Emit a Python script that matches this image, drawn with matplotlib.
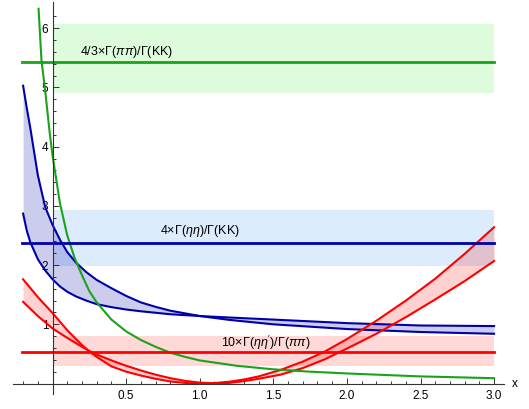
import matplotlib
matplotlib.use('Agg')
import matplotlib.pyplot as plt
import numpy as np

plt.rcParams['font.family'] = ['Liberation Sans', 'DejaVu Sans']
plt.rcParams['mathtext.fontset'] = 'custom'
plt.rcParams['mathtext.rm'] = 'Liberation Sans'
plt.rcParams['mathtext.it'] = 'Liberation Sans:italic'

# horizontal reference values (center, low, high)
green_ref = [5.43, 4.91, 6.07]
blue_ref = [2.38, 1.99, 2.93]
red_ref = [0.54, 0.30, 0.80]

green_label = '4/3×Γ($\\pi\\pi$)/Γ(KK)'
blue_label = '4×Γ($\\eta\\eta$)/Γ(KK)'
red_label = "10×Γ($\\eta\\eta'$)/Γ($\\pi\\pi$)"

# green curve
green_x = [-0.095, -0.075, -0.05, -0.02, 0.0, 0.05, 0.10, 0.15, 0.20, 0.25, 0.30, 0.40,
           0.50, 0.60, 0.70, 0.80, 0.90, 1.00, 1.25, 1.50, 1.75, 2.00, 2.50, 3.00]
green_y = [6.33, 5.45, 4.95, 4.25, 3.85, 3.05, 2.50, 2.12, 1.83, 1.56, 1.37, 1.08,
           0.88, 0.735, 0.62, 0.52, 0.45, 0.39, 0.30, 0.24, 0.20, 0.17, 0.12, 0.09]

# blue band
blue_x = [-0.20, -0.175, -0.15, -0.10, -0.05, 0.0, 0.05, 0.10, 0.16, 0.23, 0.30, 0.40,
          0.50, 0.60, 0.70, 0.80, 1.00, 1.20, 1.50, 2.00, 2.50, 3.00]
blue1_y = [5.03, 4.65, 4.30, 3.52, 2.98, 2.68, 2.43, 2.22, 2.04, 1.88, 1.75, 1.61,
           1.48, 1.37, 1.295, 1.23, 1.14, 1.075, 1.00, 0.92, 0.87, 0.84]
blue2_y = [2.87, 2.58, 2.38, 2.10, 1.91, 1.76, 1.64, 1.55, 1.47, 1.40, 1.34, 1.29,
           1.25, 1.22, 1.195, 1.17, 1.14, 1.115, 1.08, 1.02, 0.98, 0.97]

# red band
red_x = [-0.20, -0.10, 0.0, 0.10, 0.20, 0.25, 0.30, 0.40, 0.50, 0.60, 0.70, 0.80, 0.90,
         1.00, 1.10, 1.20, 1.30, 1.40, 1.55, 1.70, 1.85, 2.00, 2.20, 2.40, 2.60, 2.80, 3.00]
red1_y = [1.76, 1.46, 1.19, 0.90, 0.65, 0.54, 0.45, 0.29, 0.20, 0.135, 0.08, 0.035, 0.01,
          0.0, 0.008, 0.03, 0.068, 0.12, 0.23, 0.37, 0.54, 0.75, 1.06, 1.40, 1.77, 2.19, 2.64]
red2_y = [1.38, 1.14, 0.93, 0.77, 0.62, 0.55, 0.49, 0.39, 0.30, 0.22, 0.15, 0.09, 0.045,
          0.015, 0.005, 0.01, 0.04, 0.08, 0.15, 0.26, 0.41, 0.59, 0.84, 1.12, 1.42, 1.73, 2.07]

GREEN = '#1aa31a'
BLUE = '#0000a8'
RED = '#ff0000'

fig = plt.figure(figsize=(5.29, 4.09), dpi=100)
ax = fig.add_axes([0.0242, 0.0377, 0.9293, 0.9583])
ax.set_xlim(-0.27, 3.07)
ax.set_ylim(-0.17, 6.45)

# shaded reference bands
ax.fill_between([0, 3], green_ref[1], green_ref[2], color='#dcfcdc', lw=0, zorder=1)
ax.fill_between([0, 3], blue_ref[1], blue_ref[2], color='#dcecfc', lw=0, zorder=1)
ax.fill_between([0, 3], red_ref[1], red_ref[2], color='#ffd8d8', lw=0, zorder=1)

# curve bands
ax.fill_between(blue_x, blue1_y, blue2_y, color=BLUE, alpha=0.2, lw=0, zorder=2)
ax.fill_between(red_x, red1_y, red2_y, color=RED, alpha=0.18, lw=0, zorder=2)

ax.plot(blue_x, blue1_y, color=BLUE, lw=1.5, zorder=3)
ax.plot(blue_x, blue2_y, color=BLUE, lw=1.5, zorder=3)
ax.plot(red_x, red1_y, color=RED, lw=1.5, zorder=3)
ax.plot(red_x, red2_y, color=RED, lw=1.5, zorder=3)
ax.plot(green_x, green_y, color=GREEN, lw=1.5, zorder=3)

# reference lines
for ref, c in [(green_ref, GREEN), (blue_ref, BLUE), (red_ref, RED)]:
    ax.plot([-0.21, 3.0], [ref[0], ref[0]], color=c, lw=2, zorder=4)

ax.text(0.185, 5.6, green_label, fontsize=9, va='center', ha='left', zorder=5)
ax.text(0.73, 2.58, blue_label, fontsize=9, va='center', ha='left', zorder=5)
ax.text(1.145, 0.68, red_label, fontsize=9, va='center', ha='left', zorder=5)

# Mathematica style axes through the origin
for s in ['top', 'right']:
    ax.spines[s].set_visible(False)
ax.spines['left'].set_position(('data', 0))
ax.spines['bottom'].set_position(('data', 0))
for s in ['left', 'bottom']:
    ax.spines[s].set_color('#333333')
    ax.spines[s].set_linewidth(0.8)
    ax.spines[s].set_zorder(6)

ax.set_xticks([0.5, 1.0, 1.5, 2.0, 2.5, 3.0])
ax.set_xticklabels(['0.5', '1.0', '1.5', '2.0', '2.5', '3.0'])
ax.set_xticks([v / 10 for v in range(-2, 31) if v % 5 != 0], minor=True)
ax.set_yticks([1, 2, 3, 4, 5, 6])
ax.set_yticks([v / 5 for v in range(1, 32) if v % 5 != 0], minor=True)
ax.tick_params(which='both', direction='in', color='#333333', width=0.7, labelsize=8.5)
ax.tick_params(which='major', length=4)
ax.tick_params(which='minor', length=2.3)
ax.tick_params(axis='x', pad=4.5)
ax.tick_params(axis='y', pad=3)

fig.text(515 / 529, 1 - 384 / 409, 'x', fontsize=8.5, ha='center', va='center')

fig.savefig('out.png', dpi=100)
